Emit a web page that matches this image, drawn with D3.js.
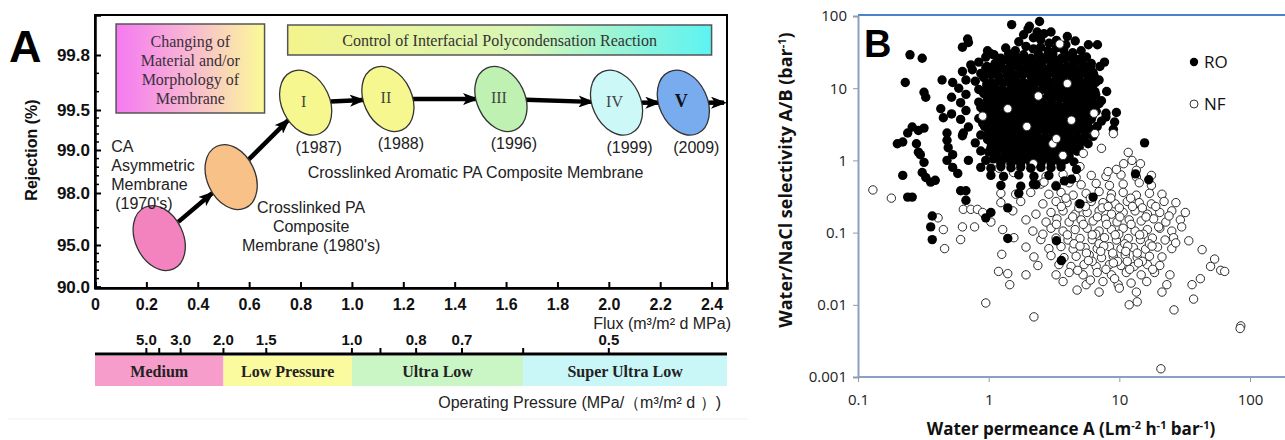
<!DOCTYPE html>
<html>
<head>
<meta charset="utf-8">
<script src="https://cdn.jsdelivr.net/npm/d3@7"></script>
<style>
body { margin: 0; background: #fff; }
svg { display: block; }
</style>
</head>
<body>
<div id="chart"></div>
<script>
// ---------- panel A data ----------
const fluxTicks = [0, 0.2, 0.4, 0.6, 0.8, 1.0, 1.2, 1.4, 1.6, 1.8, 2.0, 2.2, 2.4];
const rejTicks = [90.0, 95.0, 98.0, 99.0, 99.5, 99.8];
const rejMinor = [99.7, 99.6, 99.4, 99.3, 99.2, 99.1, 98.8, 98.6, 98.4, 98.2, 97, 96, 94, 93, 92, 91];
const pressureTicks = [5.0, 4.0, 3.0, 2.0, 1.5, 1.0, 0.9, 0.8, 0.7, 0.6, 0.5];
const pressureLabels = [5.0, 3.0, 2.0, 1.5, 1.0, 0.8, 0.7, 0.5];
const bandNames = ["Medium", "Low Pressure", "Ultra Low", "Super Ultra Low"];
const bandFrom = [null, 2.0, 1.0, 0.6];   // pressure where each band starts (null = axis start)
const bandColors = ["#f79dcb", "#fafa9f", "#c9f6c4", "#c9f6f6"];

const memNames = ["", "", "I", "II", "III", "IV", "V"];
const memFlux = [0.25, 0.53, 0.82, 1.14, 1.58, 2.03, 2.29];
const memRejection = [95.4, 98.37, 99.54, 99.56, 99.56, 99.54, 99.54];
const memYears = ["", "", "(1987)", "(1988)", "(1996)", "(1999)", "(2009)"];
const memColors = ["#f283bf", "#f8c187", "#f7f78f", "#f7f78f", "#bff1b2", "#cdf8f8", "#78acee"];

// ---------- panel B data : [water permeance A, selectivity A/B] ----------
const permTicks = [0.1, 1, 10, 100];
const selTicks = [0.001, 0.01, 0.1, 1, 10, 100];

const roData = [
  [1.5,76],[2.05,72],[2.45,84],
  [2.0,66],[2.35,60],[2.65,57],[1.85,55],
  [1.7,44],[2.2,50],[2.5,47],[2.9,42],[3.3,46],[3.9,40],
  [1.35,36],[1.6,33],[1.93,38],[2.2,35],[2.5,37],[2.85,33],[3.3,36],[3.75,34],[4.4,31],[5.1,33],
  [0.95,27],[1.1,29],[1.24,26],[1.42,30],[1.6,27],[1.85,29],[2.1,26],[2.4,30],[2.75,27],[3.1,29],[3.6,26],[4.1,28],[4.8,25],[5.6,27],
  [0.73,21],[0.84,23],[0.97,20],[1.12,22],[1.28,24],[1.48,21],[1.7,23],[1.96,20],[2.25,22],[2.6,24],[3.0,21],[3.45,22],[4.0,20],[4.6,23],[5.3,21],[6.1,22],[7.1,20],
  [0.63,17],[0.75,18],[0.87,16],[1.0,17.5],[1.15,16.5],[1.33,18],[1.52,16],[1.76,17],[2.03,18.5],[2.35,16],[2.7,17],[3.1,18],[3.6,16],[4.1,17.5],[4.75,16],[5.5,18],[6.3,16.5],
  [0.67,13],[0.79,12.5],[0.92,14],[1.05,12],[1.2,13.5],[1.4,12.5],[1.6,14],[1.85,12],[2.15,13],[2.45,14],[2.85,12.5],[3.3,13],[3.8,12],[4.35,13.5],[5.0,12.5],[5.8,13],[6.6,12],
  [0.59,10],[0.84,9.6],[0.97,11],[1.12,10],[1.28,9.5],[1.48,10.8],[1.7,9.8],[1.96,10.5],[2.25,9.6],[2.6,11],[3.0,10],[3.45,9.5],[4.0,10.5],[4.6,9.8],[5.3,10.6],[6.1,9.6],
  [0.67,8.2],[0.92,8.4],[1.05,7.8],[1.2,8.1],[1.4,7.4],[1.6,8.3],[1.85,7.7],[2.15,8.2],[2.45,7.5],[2.85,8.0],[3.3,7.6],[3.8,8.4],[4.35,7.7],[5.0,8.0],[5.8,7.4],[6.6,8.1],
  [0.61,6.3],[0.84,6.4],[0.97,6.0],[1.12,6.2],[1.28,5.8],[1.48,6.3],[1.7,6.0],[1.96,6.4],[2.25,5.9],[2.6,6.1],[3.0,6.3],[3.45,5.8],[4.0,6.2],[4.6,6.0],[5.3,6.4],[6.1,5.8],[7.0,6.1],
  [0.67,4.9],[0.92,4.8],[1.05,5.0],[1.21,4.6],[1.4,4.9],[1.61,4.7],[1.86,5.0],[2.14,4.6],[2.47,4.8],[2.84,4.9],[3.28,4.6],[3.77,4.9],[4.35,4.7],[5.0,4.9],[5.77,4.6],[6.65,4.8],[7.9,4.5],
  [0.61,3.7],[0.84,3.8],[0.97,3.6],[1.11,3.75],[1.28,3.55],[1.48,3.8],[1.7,3.6],[1.96,3.7],[2.26,3.5],[2.6,3.8],[3.0,3.6],[3.45,3.75],[3.98,3.55],[4.59,3.8],[5.28,3.6],[6.1,3.7],[7.3,3.5],
  [0.7,2.9],[0.93,2.95],[1.07,2.8],[1.24,2.9],[1.42,2.75],[1.64,2.95],[1.89,2.8],[2.18,2.9],[2.51,2.75],[2.89,2.95],[3.33,2.8],[3.84,2.9],[4.43,2.75],[5.1,2.9],[5.88,2.8],[6.77,2.95],[9.0,2.7],
  [0.63,2.2],[0.87,2.25],[1.0,2.1],[1.15,2.2],[1.33,2.25],[1.53,2.1],[1.76,2.2],[2.03,2.15],[2.34,2.25],[2.7,2.1],[3.1,2.2],[3.58,2.15],[4.13,2.25],[4.75,2.1],[5.47,2.2],[6.3,2.15],
  [0.79,1.75],[1.05,1.72],[1.21,1.68],[1.4,1.76],[1.61,1.66],[1.86,1.74],[2.14,1.7],[2.47,1.65],[2.84,1.75],[3.28,1.68],[3.77,1.72],[4.35,1.66],[5.0,1.74],[5.77,1.7],
  [0.87,1.35],[1.0,1.3],[1.15,1.36],[1.33,1.3],[1.53,1.34],[1.76,1.31],[2.03,1.36],[2.34,1.3],[2.7,1.35],[3.1,1.32],[3.58,1.36],[4.13,1.3],[4.75,1.34],
  [0.95,1.0],[1.09,1.05],[1.26,1.01],[1.45,1.04],[1.67,1.0],[1.93,1.05],[2.22,1.02],[2.56,1.0],[2.94,1.04],[3.39,1.01],[3.91,1.03],[4.5,0.95],
  [0.87,0.8],[1.04,0.78],[1.24,0.82],[1.48,0.79],[1.76,0.81],[2.1,0.78],[2.51,0.8],[3.0,0.79],[3.58,0.81],[4.7,0.75],
  [1.04,0.62],[1.3,0.6],[1.7,0.63],[2.22,0.6],[2.89,0.62],
  [1.24,0.45],[1.76,0.44],[2.3,0.46],[3.28,0.44],
  // dense core, in between the rows above
  [1.24,25],[1.42,24],[1.64,26],[1.89,25],[2.18,24],[2.51,26],[2.89,25],[3.33,24],[3.84,25.5],[4.43,24.5],[5.1,25],
  [0.95,19],[1.09,20],[1.26,19.3],[1.45,18.8],[1.67,20],[1.93,19.5],[2.22,18.8],[2.56,19.8],[2.94,19],[3.39,20],[3.91,19.2],[4.5,19.8],[5.2,18.9],[6.0,19.5],
  [0.9,15],[1.04,15.5],[1.19,14.6],[1.38,15.3],[1.58,14.8],[1.82,15.4],[2.1,14.7],[2.42,15.2],[2.8,14.9],[3.22,15.5],[3.71,14.6],[4.27,15.1],[4.93,14.8],[5.67,15.3],
  [0.97,11.6],[1.11,11.3],[1.28,11.9],[1.48,11.4],[1.7,11.8],[1.96,11.3],[2.26,11.7],[2.6,11.5],[3.0,11.9],[3.45,11.3],[3.98,11.7],[4.59,11.4],[5.28,11.8],[6.1,11.3],
  [0.9,9.0],[1.04,8.8],[1.19,9.2],[1.38,8.9],[1.58,9.3],[1.82,8.8],[2.1,9.1],[2.42,8.9],[2.8,9.2],[3.22,8.8],[3.71,9.1],[4.27,9.0],[4.93,9.2],[5.67,8.8],[6.5,9.0],
  [0.98,7.0],[1.13,6.8],[1.3,7.1],[1.5,6.9],[1.73,7.2],[1.99,6.8],[2.3,7.1],[2.65,6.9],[3.05,7.0],[3.52,7.2],[4.05,6.8],[4.67,7.1],[5.37,6.9],[6.2,7.0],
  [0.87,5.4],[1.0,5.5],[1.15,5.3],[1.33,5.5],[1.53,5.3],[1.76,5.4],[2.03,5.5],[2.34,5.3],[2.7,5.4],[3.1,5.5],[3.58,5.3],[4.13,5.4],[4.75,5.5],[5.47,5.3],[6.3,5.4],
  [0.98,4.2],[1.13,4.1],[1.3,4.3],[1.5,4.15],[1.73,4.25],[1.99,4.1],[2.3,4.2],[2.65,4.3],[3.05,4.1],[3.52,4.2],[4.05,4.25],[4.67,4.15],[5.37,4.2],[6.2,4.1],
  [0.9,3.25],[1.04,3.3],[1.19,3.2],[1.38,3.3],[1.58,3.2],[1.82,3.25],[2.1,3.3],[2.42,3.2],[2.8,3.25],[3.22,3.3],[3.71,3.2],[4.27,3.25],[4.93,3.3],[5.67,3.2],
  [1.0,2.52],[1.15,2.48],[1.33,2.55],[1.53,2.5],[1.76,2.54],[2.03,2.48],[2.34,2.52],[2.7,2.55],[3.1,2.49],[3.58,2.53],[4.13,2.5],[4.75,2.55],[5.47,2.48],
  [0.98,1.95],[1.13,1.92],[1.3,1.98],[1.5,1.94],[1.73,1.97],[1.99,1.92],[2.3,1.96],[2.65,1.93],[3.05,1.98],[3.52,1.94],[4.05,1.96],[4.67,1.92],[5.37,1.97],
  [1.04,1.5],[1.19,1.53],[1.38,1.49],[1.58,1.52],[1.82,1.5],[2.1,1.53],[2.42,1.49],[2.8,1.51],[3.22,1.53],[3.71,1.49],[4.27,1.52],[4.93,1.5],
  [1.15,1.17],[1.33,1.15],[1.53,1.19],[1.76,1.16],[2.03,1.18],[2.34,1.15],[2.7,1.19],[3.1,1.16],[3.58,1.18],[4.13,1.15],
  [1.24,0.91],[1.48,0.9],[1.76,0.92],[2.1,0.9],[2.51,0.91],[3.0,0.92],[3.58,0.9],
  // left fringe
  [0.23,12],[0.25,29],[0.31,26],[0.32,8.8],[0.33,7.5],[0.44,13],[0.53,12],[0.63,37],[0.69,48],[0.7,43],
  [0.52,7.5],[0.32,2.8],[0.29,2.6],[0.2,1.7],[0.22,1.8],[0.24,2.4],[0.26,2.9],[0.28,1.7],[0.29,1.3],[0.3,1.2],
  [0.32,0.94],[0.31,0.68],[0.33,0.58],[0.36,0.5],[0.39,0.53],[0.22,0.62],[0.24,0.31],[0.26,0.31],[0.48,2.4],[0.48,1.9],
  [0.49,1.5],[0.53,1.2],[0.48,1.0],[0.53,0.8],[0.58,0.66],[0.43,5.2],[0.45,3.9],[0.52,4.4],[0.64,2.4],[0.7,1.0],
  [0.61,0.38],[0.67,0.28],[0.98,33],[1.04,30],
  // lower fringe
  [0.37,0.17],[0.36,0.12],[0.37,0.08],[0.95,0.16],[1.04,0.19],[1.4,0.22],[1.4,0.083],[1.7,0.35],[2.2,0.47],
  [3.3,0.077],[3.6,0.041],[3.8,0.52],[5.0,0.25],[6.3,0.31],[13.3,0.65],[16.8,0.54],[15.6,1.75],[4.3,0.55],[0.67,0.38],
  // right fringe
  [5.8,40],[6.8,40],[7.7,23],[6.4,15],[7.0,13],[7.3,6.7],[7.9,4.0],[9.5,4.6],[9.2,3.4],[8.0,9.0],[6.0,19],[4.6,45],[4.0,52],[3.0,60]
];

const nfData = [
  [0.13,0.39],[0.18,0.3],[0.64,0.21],[0.73,0.21],[0.82,0.21],
  [2.75,0.6],[3.71,0.64],[4.67,0.58],[6.1,0.62],[7.9,0.6],[10.3,0.63],[13.5,0.59],
  [2.51,0.47],[3.28,0.45],[4.13,0.49],[5.1,0.46],[6.65,0.48],[8.4,0.45],[10.7,0.47],[14.2,0.49],[17.6,0.45],
  [1.24,0.35],[1.61,0.34],[2.1,0.36],[2.89,0.34],[3.58,0.36],[4.43,0.33],[5.57,0.35],[7.0,0.37],[8.7,0.34],[10.7,0.36],[13.5,0.33],[17,0.35],[21.2,0.34],
  [1.24,0.26],[1.76,0.27],[2.6,0.25],[3.28,0.27],[3.98,0.26],[4.93,0.25],[6.1,0.27],[7.5,0.26],[9.3,0.25],[11.5,0.27],[14.2,0.26],[17.6,0.25],[22,0.27],[27.1,0.26],
  [0.9,0.19],[1.53,0.2],[2.3,0.18],[3.0,0.19],[3.71,0.2],[4.59,0.18],[5.67,0.19],[7.0,0.2],[8.7,0.18],[10.7,0.19],[13.2,0.2],[16.4,0.18],[20.4,0.19],[25.2,0.2],[32,0.19],
  [0.41,0.16],[0.63,0.12],[1.04,0.14],[1.93,0.15],[2.75,0.14],[3.33,0.155],[4.13,0.14],[5.1,0.15],[6.3,0.145],[7.8,0.155],[9.6,0.14],[11.9,0.15],[14.7,0.145],[18.3,0.155],[22.7,0.14],[29.3,0.15],
  [0.45,0.11],[0.78,0.12],[1.28,0.11],[2.18,0.105],[3.0,0.115],[3.71,0.105],[4.59,0.11],[5.67,0.115],[7.0,0.105],[8.7,0.11],[10.7,0.115],[13.2,0.105],[16.4,0.11],[20.4,0.115],[25.2,0.105],
  [0.61,0.08],[1.56,0.085],[2.51,0.08],[3.28,0.084],[4.05,0.079],[5.0,0.083],[6.2,0.08],[7.7,0.085],[9.5,0.079],[11.7,0.083],[14.5,0.08],[17.9,0.084],[22.4,0.079],[34,0.077],
  [0.46,0.06],[1.26,0.05],[1.93,0.063],[2.89,0.06],[3.58,0.064],[4.43,0.059],[5.47,0.062],[6.77,0.06],[8.4,0.064],[10.3,0.06],[12.8,0.062],[15.9,0.059],[19.6,0.063],[25.2,0.06],[43,0.058],
  [2.22,0.046],[3.0,0.048],[3.77,0.045],[4.67,0.047],[5.88,0.049],[7.3,0.045],[9.0,0.047],[11.1,0.049],[13.7,0.045],[17,0.047],[21.2,0.046],[53.6,0.043],
  [2.38,0.035],[3.45,0.036],[4.27,0.034],[5.37,0.036],[6.65,0.034],[8.4,0.036],[10.3,0.035],[13,0.034],[16.4,0.036],[20.4,0.035],[49.9,0.034],[59.7,0.03],
  [1.19,0.029],[1.4,0.027],[1.93,0.026],[3.28,0.026],[4.13,0.028],[5.28,0.026],[6.77,0.028],[8.7,0.026],[11.3,0.028],[14.7,0.026],[18.6,0.028],[24.4,0.026],[41.7,0.023],[64,0.029],
  [1.45,0.019],[3.71,0.021],[5.57,0.019],[7.5,0.021],[9.8,0.019],[12.3,0.02],[16.2,0.021],[23.1,0.019],[36,0.019],
  [4.75,0.016],[7.0,0.015],[10,0.017],[13.5,0.015],[21.2,0.015],[37,0.012],
  [0.95,0.0106],[11.9,0.01],[13.7,0.011],[26.2,0.0085],[2.22,0.0068],[85,0.0051],[84,0.0047],[20.8,0.0013],
  // extra in the dense part
  [3.9,0.3],[4.9,0.22],[6.0,0.3],[7.4,0.22],[8.6,0.3],[10,0.22],[12.2,0.3],[15,0.22],[5.3,0.13],[6.6,0.095],
  [8.0,0.13],[9.9,0.095],[12.3,0.13],[15.3,0.095],[4.5,0.07],[5.6,0.052],[7.0,0.07],[8.9,0.052],[11,0.07],[13.7,0.052],
  [17,0.07],[6.2,0.04],[7.9,0.031],[9.7,0.04],[12,0.031],[15,0.04],[18,0.031],[3.3,0.13],[2.6,0.095],[26,0.085],[30,0.12],
  [3.6,0.23],[4.4,0.165],[5.5,0.23],[6.8,0.165],[8.2,0.23],[10.1,0.165],[12.6,0.23],[16,0.165],[19,0.23],[4.0,0.093],
  [5.0,0.065],[6.2,0.093],[7.6,0.065],[9.3,0.093],[11.6,0.065],[14.3,0.093],[17.8,0.065],[5.8,0.041],[7.2,0.055],[9.0,0.038],
  [11.2,0.055],[14,0.038],[4.8,0.03],[6.0,0.022],[9.2,0.023],[11.5,0.04],[20,0.12],[24,0.17],[27,0.072],
  // inside / on the edge of the RO cloud
  [3.5,41],[4.0,11.6],[1.4,5.2],[1.96,2.95],[0.9,4.1],[6.4,4.5],[3.1,1.7],[3.7,1.17],[5.3,1.25],[2.2,0.9],
  [2.65,0.5],[1.55,0.68],[4.3,3.6],[6.5,2.35],[7.3,1.47],[9.0,2.35],[11.7,1.29],[1.2,0.78],[10.8,0.9],[9.5,0.75],
  [8.2,0.7],[5.0,0.82],[12.5,1.0],[14.5,0.9],[2.4,7.8],[3.3,2.0],[13.5,0.73],[17.6,0.62]
];

// ---------- svg ----------
const svg = d3.select("#chart").append("svg")
  .attr("width", 1285).attr("height", 440)
  .style("font-family", "'Liberation Sans', Arial, sans-serif");
const defs = svg.append("defs");

function hGrad(id, stops) {
  const g = defs.append("linearGradient").attr("id", id)
    .attr("x1", "0%").attr("x2", "100%").attr("y1", "0%").attr("y2", "0%");
  stops.forEach(s => g.append("stop").attr("offset", s[0]).attr("stop-color", s[1]));
}
hGrad("gradMat", [["0%", "#f579f3"], ["50%", "#f8b8d2"], ["100%", "#fbfb97"]]);
hGrad("gradCtrl", [["0%", "#f4f48b"], ["55%", "#d8f6b6"], ["100%", "#5cf3f3"]]);

defs.append("marker").attr("id", "head")
  .attr("viewBox", "0 0 16 12").attr("refX", 13).attr("refY", 6)
  .attr("markerWidth", 16).attr("markerHeight", 12)
  .attr("markerUnits", "userSpaceOnUse").attr("orient", "auto")
  .append("path").attr("d", "M0,0 L16,6 L0,12 L4,6 Z").attr("fill", "#000");

// ================= Panel A =================
const xA = d3.scaleLinear().domain([0, 2.46]).range([95, 727]);
const yA = d3.scaleLinear()
  .domain([90, 95, 98, 99, 99.5, 99.8, 99.92])
  .range([287, 245, 193, 150, 110, 55, 15]);
const gA = svg.append("g");

// frame
gA.append("rect").attr("x", 95).attr("y", 15).attr("width", 632).attr("height", 273)
  .attr("fill", "none").attr("stroke", "#000").attr("stroke-width", 2);

// y axis
const yAxisA = gA.append("g").attr("transform", "translate(95,0)")
  .call(d3.axisLeft(yA).tickValues(rejTicks).tickFormat(d3.format(".1f")).tickSize(-6).tickPadding(5));
yAxisA.select(".domain").attr("stroke-width", 2.5);
yAxisA.selectAll("text").attr("font-size", 17).attr("font-weight", "bold").attr("fill", "#111")
  .attr("font-family", "'Liberation Sans', Arial, sans-serif");
yAxisA.selectAll("line").attr("stroke-width", 2);
gA.selectAll(".minorY").data(rejMinor).join("line")
  .attr("x1", 95).attr("x2", 99).attr("y1", d => yA(d)).attr("y2", d => yA(d))
  .attr("stroke", "#000").attr("stroke-width", 1.5);

// x axis
const xAxisA = gA.append("g").attr("transform", "translate(0,288)")
  .call(d3.axisBottom(xA).tickValues(fluxTicks)
    .tickFormat(d => d === 0 ? "0" : d3.format(".1f")(d)).tickSize(-6).tickPadding(11));
xAxisA.select(".domain").attr("stroke-width", 2.5);
xAxisA.selectAll("line").attr("stroke-width", 2);
xAxisA.selectAll("text").attr("font-size", 16).attr("font-weight", "bold").attr("fill", "#111")
  .attr("font-family", "'Liberation Sans', Arial, sans-serif");

gA.append("text").attr("x", 731).attr("y", 329).attr("text-anchor", "end")
  .attr("font-size", 16).attr("fill", "#222").text("Flux  (m³/m² d MPa)");

gA.append("text").attr("transform", "translate(37,150) rotate(-90)")
  .attr("text-anchor", "middle").attr("font-size", 16).attr("font-weight", "bold")
  .attr("fill", "#111").text("Rejection (%)");

gA.append("text").attr("x", 9).attr("y", 62).attr("font-size", 45)
  .attr("font-weight", "bold").text("A");

// annotation boxes
gA.append("rect").attr("x", xA(0.082)).attr("y", 24).attr("width", xA(0.66) - xA(0.082)).attr("height", 89)
  .attr("fill", "url(#gradMat)").attr("stroke", "#555").attr("stroke-width", 1.5);
["Changing of", "Material and/or", "Morphology of", "Membrane"].forEach((t, i) => {
  gA.append("text").attr("x", xA(0.371)).attr("y", 47 + i * 19).attr("text-anchor", "middle")
    .attr("font-family", "'Liberation Serif', 'Times New Roman', serif").attr("font-size", 16)
    .attr("fill", "#3a2f3a").text(t);
});
gA.append("rect").attr("x", xA(0.75)).attr("y", 25).attr("width", xA(2.4) - xA(0.75)).attr("height", 30)
  .attr("fill", "url(#gradCtrl)").attr("stroke", "#555").attr("stroke-width", 1.5);
gA.append("text").attr("x", (xA(0.75) + xA(2.4)) / 2).attr("y", 46).attr("text-anchor", "middle")
  .attr("font-family", "'Liberation Serif', 'Times New Roman', serif").attr("font-size", 16)
  .attr("fill", "#333").text("Control of Interfacial Polycondensation Reaction");

// membrane generations
const gens = memNames.map((n, i) => ({
  name: n, x: xA(memFlux[i]), y: yA(memRejection[i]), year: memYears[i], color: memColors[i]
}));

// arrows between generations (last one runs out to the frame)
const arrowPairs = gens.slice(0, -1).map((d, i) => [d, gens[i + 1]]);
const last = gens[gens.length - 1];
arrowPairs.push([last, { x: xA.range()[1] + 22, y: last.y }]);
arrowPairs.forEach(([a, b]) => {
  const dx = b.x - a.x, dy = b.y - a.y, L = Math.hypot(dx, dy);
  const ux = dx / L, uy = dy / L;
  gA.append("line")
    .attr("x1", a.x + ux * 25).attr("y1", a.y + uy * 25)
    .attr("x2", b.x - ux * 25).attr("y2", b.y - uy * 25)
    .attr("stroke", "#000").attr("stroke-width", 4.5)
    .attr("marker-end", "url(#head)");
});

const eg = gA.append("g").selectAll("g").data(gens).join("g")
  .attr("transform", d => `translate(${d.x},${d.y})`);
eg.append("ellipse").attr("rx", 24).attr("ry", 34).attr("transform", "rotate(-25)")
  .attr("fill", d => d.color).attr("stroke", "#333").attr("stroke-width", 1.3);
eg.append("text").attr("x", -2).attr("y", 4).attr("text-anchor", "middle")
  .attr("font-family", "'Liberation Serif', 'Times New Roman', serif")
  .attr("font-size", d => d.name === "V" ? 18 : 16)
  .attr("font-weight", d => d.name === "V" ? "bold" : "normal")
  .attr("fill", d => d.name === "V" ? "#111" : "#444").text(d => d.name);
eg.append("text").attr("x", 13).attr("y", 50).attr("text-anchor", "middle")
  .attr("font-size", 16).attr("fill", "#222").text(d => d.year);

// descriptive labels
const ca = gens[0], pa = gens[1], g1 = gens[2];
["CA", "Asymmetric", "Membrane"].forEach((t, i) => {
  gA.append("text").attr("x", ca.x - 48).attr("y", ca.y - 86 + i * 19)
    .attr("font-size", 16).attr("fill", "#222").text(t);
});
gA.append("text").attr("x", ca.x - 44).attr("y", ca.y - 29).attr("font-size", 16)
  .attr("fill", "#222").text("(1970's)");
["Crosslinked PA", "Composite", "Membrane (1980's)"].forEach((t, i) => {
  gA.append("text").attr("x", pa.x + 80).attr("y", pa.y + 36 + i * 19).attr("text-anchor", "middle")
    .attr("font-size", 16).attr("fill", "#222").text(t);
});
gA.append("text").attr("x", g1.x + 2).attr("y", g1.y + 75).attr("font-size", 16)
  .attr("fill", "#222").text("Crosslinked Aromatic PA Composite Membrane");

// operating pressure scale
const pY = 354;
gA.append("line").attr("x1", 95).attr("x2", 727).attr("y1", pY).attr("y2", pY)
  .attr("stroke", "#000").attr("stroke-width", 3);
gA.selectAll(".pTick").data(pressureTicks).join("line")
  .attr("x1", d => xA(1 / d)).attr("x2", d => xA(1 / d))
  .attr("y1", pY - 6).attr("y2", pY).attr("stroke", "#000").attr("stroke-width", 2);
gA.selectAll(".pLab").data(pressureLabels).join("text")
  .attr("x", d => xA(1 / d)).attr("y", pY - 9).attr("text-anchor", "middle")
  .attr("font-size", 15).attr("font-weight", "bold").attr("fill", "#111")
  .text(d => d3.format(".1f")(d));

const bands = bandNames.map((n, i) => ({
  name: n, color: bandColors[i],
  x0: bandFrom[i] === null ? xA.range()[0] : xA(1 / bandFrom[i]),
  x1: i + 1 < bandFrom.length ? xA(1 / bandFrom[i + 1]) : xA.range()[1]
}));
gA.selectAll(".band").data(bands).join("rect")
  .attr("x", d => d.x0).attr("y", pY + 2).attr("width", d => d.x1 - d.x0).attr("height", 30)
  .attr("fill", d => d.color);
gA.selectAll(".bandLab").data(bands).join("text")
  .attr("x", d => (d.x0 + d.x1) / 2).attr("y", pY + 23).attr("text-anchor", "middle")
  .attr("font-family", "'Liberation Serif', 'Times New Roman', serif")
  .attr("font-size", 16).attr("font-weight", "bold").attr("fill", "#222").text(d => d.name);

gA.append("text").attr("x", 721).attr("y", 408).attr("text-anchor", "end")
  .attr("font-size", 16).attr("fill", "#222").text("Operating Pressure (MPa/（m³/m² d ）)");

gA.append("line").attr("x1", 8).attr("x2", 748).attr("y1", 419).attr("y2", 419)
  .attr("stroke", "#f0f0f0").attr("stroke-width", 1);

// ================= Panel B =================
const xB = d3.scaleLog().domain([0.1, 100]).range([858, 1250]);
const yB = d3.scaleLog().domain([0.001, 100]).range([377, 16]);
const gB = svg.append("g").style("font-family", "'Open Sans', 'Liberation Sans', sans-serif");
const axisCol = "#8c9fc6";

gB.append("line").attr("x1", 858).attr("x2", 1285).attr("y1", 15).attr("y2", 15)
  .attr("stroke", "#4e82c8").attr("stroke-width", 2);

const yAxisB = gB.append("g").attr("transform", "translate(858,0)")
  .call(d3.axisLeft(yB).tickValues(selTicks).tickFormat(d => String(d)).tickSize(5).tickPadding(6));
yAxisB.select(".domain").attr("stroke", axisCol).attr("stroke-width", 2);
yAxisB.selectAll("line").attr("stroke", "#999");
yAxisB.selectAll("text").attr("font-size", 15).attr("fill", "#222")
  .attr("font-family", "'Open Sans', 'Liberation Sans', sans-serif");

const xAxisB = gB.append("g").attr("transform", "translate(0,377)")
  .call(d3.axisBottom(xB).tickValues(permTicks).tickFormat(d => String(d)).tickSize(5).tickPadding(12));
xAxisB.select(".domain").remove();
xAxisB.selectAll("line").attr("stroke", "#999");
xAxisB.selectAll("text").attr("font-size", 15).attr("fill", "#222")
  .attr("font-family", "'Open Sans', 'Liberation Sans', sans-serif");
gB.append("line").attr("x1", 858).attr("x2", 1285).attr("y1", 377).attr("y2", 377)
  .attr("stroke", axisCol).attr("stroke-width", 2);

// points: RO upper cloud, NF, then low RO points on top
const roHigh = roData.filter(d => d[1] >= 0.9);
const roLow = roData.filter(d => d[1] < 0.9);
function drawRO(data) {
  gB.append("g").selectAll("circle").data(data).join("circle")
    .attr("cx", d => xB(d[0])).attr("cy", d => yB(d[1])).attr("r", 4.7).attr("fill", "#000");
}
drawRO(roHigh);
gB.append("g").selectAll("circle").data(nfData).join("circle")
  .attr("cx", d => xB(d[0])).attr("cy", d => yB(d[1])).attr("r", 4.2)
  .attr("fill", "#fff").attr("stroke", "#2a2a2a").attr("stroke-width", 1);
drawRO(roLow);

// legend
gB.append("circle").attr("cx", 1194).attr("cy", 62).attr("r", 4.2).attr("fill", "#000");
gB.append("text").attr("x", 1204).attr("y", 68).attr("font-size", 17).attr("fill", "#111").text("RO");
gB.append("circle").attr("cx", 1194).attr("cy", 104).attr("r", 4).attr("fill", "#fff")
  .attr("stroke", "#333").attr("stroke-width", 1);
gB.append("text").attr("x", 1204).attr("y", 110).attr("font-size", 17).attr("fill", "#111").text("NF");

gB.append("text").attr("x", 864).attr("y", 57).attr("font-size", 38).attr("font-weight", "bold")
  .attr("font-family", "'Liberation Sans', Arial, sans-serif").text("B");

// axis titles with superscripts
function supText(parent, parts) {
  parts.forEach(p => {
    if (p[1]) parent.append("tspan").attr("dy", -6).attr("font-size", 11).text(p[0]);
    else parent.append("tspan").attr("dy", p[2] ? 6 : 0).text(p[0]);
  });
}
const xt = gB.append("text").attr("x", 1071).attr("y", 435).attr("text-anchor", "middle")
  .attr("font-size", 17).attr("font-weight", "bold").attr("fill", "#111");
supText(xt, [["Water permeance A (Lm"], ["-2", true], [" h", false, true], ["-1", true], [" bar", false, true], ["-1", true], [")", false, true]]);

const yt = gB.append("text").attr("transform", "translate(792,180) rotate(-90)")
  .attr("text-anchor", "middle").attr("font-size", 18).attr("font-weight", "bold").attr("fill", "#111");
supText(yt, [["Water/NaCl selectivity A/B (bar"], ["-1", true], [")", false, true]]);
</script>
</body>
</html>
